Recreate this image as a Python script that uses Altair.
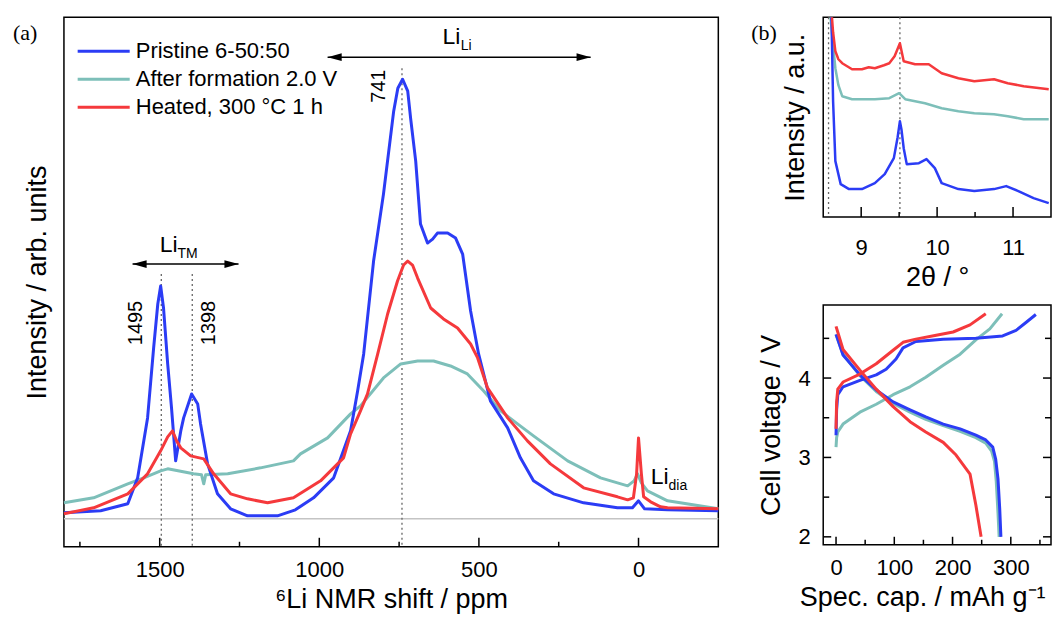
import altair as alt
import pandas as pd

SERIES = ["Pristine 6-50:50", "After formation 2.0 V", "Heated, 300 °C 1 h"]
COLORS = ["#2b3cf5", "#7dbfb9", "#f5393c"]
DRAW_ORDER = [1, 0, 2]

# ---------------- (a) 6Li NMR spectra: shift (ppm) / intensity (arb. units) ----------------
nmr_pristine_ppm = [1800, 1685, 1600, 1569, 1538, 1519, 1506, 1497, 1488, 1475, 1463, 1450, 1434, 1425,
                    1400, 1381, 1372, 1350, 1319, 1278, 1225, 1131, 1075, 1018, 955, 902, 880, 861, 830,
                    799, 767, 754, 739, 723, 714, 698, 683, 661, 645, 630, 598, 573, 551, 526, 501, 464,
                    410, 370, 329, 266, 172, 66, 19, 0, -19, -91, -250]
nmr_pristine_int = [6, 8, 15, 41, 101, 171, 215, 233, 211, 155, 111, 58, 88, 101,
                    125, 115, 95, 55, 25, 10, 3, 3, 9, 21, 41, 88, 128, 165, 258,
                    325, 408, 431, 440, 428, 401, 358, 295, 276, 280, 286, 286, 281, 265, 208, 165, 118,
                    91, 61, 38, 25, 16, 11, 11, 18, 10, 9, 8]

nmr_formed_ppm = [1800, 1707, 1600, 1550, 1497, 1475, 1394, 1369, 1362, 1356, 1287, 1184, 1081, 1059,
                  974, 902, 871, 799, 745, 692, 642, 589, 536, 485, 432, 379, 329, 222, 119, 34, 14,
                  3, -9, -28, -91, -250]
nmr_formed_int = [16, 21, 35, 41, 48, 50, 45, 44, 35, 44, 45, 51, 58, 65,
                  81, 105, 113, 141, 155, 158, 158, 153, 145, 128, 108, 95, 83, 58, 41, 33, 38,
                  45, 36, 28, 18, 10]

nmr_heated_ppm = [1800, 1707, 1600, 1538, 1497, 1475, 1460, 1447, 1434, 1403, 1362, 1331, 1278, 1225,
                  1162, 1081, 996, 924, 902, 871, 849, 817, 786, 755, 736, 723, 708, 692, 651, 611, 567,
                  526, 504, 473, 410, 348, 276, 172, 66, 34, 16, 6, 0, -9, -16, -38, -69, -91, -250]
nmr_heated_int = [5, 11, 25, 45, 68, 82, 88, 78, 71, 63, 60, 45, 25, 20,
                  16, 21, 38, 61, 85, 108, 125, 165, 205, 238, 254, 258, 254, 241, 211, 200, 191,
                  175, 161, 131, 101, 78, 55, 31, 22, 19, 21, 45, 81, 45, 22, 17, 12, 11, 10]

nmr_peak_ppm = [1495, 1398, 741]
nmr_peak_top = [245, 245, 451]
nmr_ticks_major = [1500, 1000, 500, 0]
nmr_ticks_minor = [1750, 1250, 750, 250]

arrow_left_ppm = [974, 1585]
arrow_right_ppm = [150, 1253]
arrow_int = [462, 255]

label_main_text = ["Li", "Li", "Li"]
label_main_ppm = [614, 1500, -38]
label_main_int = [475, 267, 35]
label_sub_text = ["Li", "TM", "dia"]
label_sub_ppm = [557, 1444, -94]
label_sub_int = [469, 261, 29]

peak_label_text = ["1495", "1398", "741"]
peak_label_ppm = [1575, 1347, 814]
peak_label_int = [196, 196, 433]

legend_int = [468, 440, 412]
legend_line_ppm = [1757, 1594]
legend_text_ppm = 1575

# ---------------- (b) XRD: 2theta (deg) / intensity (a.u.) ----------------
xrd_pristine_2th = [8.60, 8.61, 8.63, 8.66, 8.73, 8.84, 9.01, 9.18, 9.31, 9.43, 9.48, 9.51, 9.53, 9.56,
                    9.60, 9.76, 9.86, 9.97, 10.06, 10.28, 10.49, 10.75, 10.91, 11.07, 11.27, 11.47]
xrd_pristine_int = [205, 196, 116, 56, 33, 28, 28, 34, 43, 59, 80, 96, 88, 69,
                    53, 54, 58, 49, 34, 28, 26, 28, 31, 26, 19, 14]
xrd_formed_2th = [8.59, 8.62, 8.66, 8.70, 8.75, 8.88, 9.18, 9.37, 9.50, 9.58, 9.84, 10.06, 10.28, 10.49,
                  10.75, 10.93, 11.14, 11.47]
xrd_formed_int = [205, 180, 149, 132, 121, 118, 118, 119, 124, 118, 114, 109, 106, 104,
                  103, 101, 98, 98]
xrd_heated_2th = [8.61, 8.63, 8.66, 8.70, 8.75, 8.88, 9.01, 9.10, 9.18, 9.30, 9.37, 9.44, 9.51, 9.56,
                  9.71, 9.89, 10.06, 10.28, 10.49, 10.75, 10.93, 11.14, 11.47]
xrd_heated_int = [205, 185, 166, 158, 154, 148, 148, 150, 149, 152, 154, 161, 174, 156,
                  153, 153, 144, 139, 136, 138, 134, 131, 128]
xrd_ref_2th = [8.57, 9.51]
xrd_ticks_major = [9, 10, 11]
xrd_ticks_minor = [9.5, 10.5]

# ---------------- (b) cycling: specific capacity (mAh/g) / voltage (V) ----------------
cv_pristine_ch_cap = [0, 1, 3, 12, 41, 69, 86, 103, 115, 137, 184, 240, 286, 309, 326, 343]
cv_pristine_ch_v = [3.28, 3.60, 3.79, 3.89, 3.97, 4.04, 4.11, 4.24, 4.38, 4.46, 4.49, 4.50, 4.53, 4.60, 4.70, 4.80]
cv_pristine_dis_cap = [0, 12, 41, 69, 98, 127, 154, 184, 213, 240, 257, 269, 274, 278, 281, 283]
cv_pristine_dis_v = [4.55, 4.29, 4.04, 3.85, 3.70, 3.60, 3.51, 3.42, 3.36, 3.28, 3.22, 3.13, 2.98, 2.73, 2.35, 2.00]
cv_formed_ch_cap = [0, 1, 3, 12, 41, 69, 98, 127, 154, 184, 213, 240, 264, 285]
cv_formed_ch_v = [3.13, 3.25, 3.32, 3.42, 3.57, 3.67, 3.79, 3.89, 4.01, 4.16, 4.30, 4.48, 4.62, 4.81]
cv_formed_dis_cap = [0, 12, 41, 69, 98, 127, 154, 184, 213, 240, 257, 267, 272, 275, 278, 280]
cv_formed_dis_v = [4.55, 4.30, 4.03, 3.83, 3.68, 3.57, 3.48, 3.40, 3.33, 3.25, 3.18, 3.08, 2.95, 2.70, 2.30, 2.00]
cv_heated_ch_cap = [0, 1, 3, 12, 41, 69, 98, 115, 137, 172, 201, 230, 257]
cv_heated_ch_v = [3.36, 3.70, 3.86, 3.95, 4.05, 4.18, 4.35, 4.45, 4.49, 4.54, 4.58, 4.67, 4.81]
cv_heated_dis_cap = [0, 12, 41, 69, 98, 127, 154, 184, 206, 230, 240, 249]
cv_heated_dis_v = [4.65, 4.36, 4.10, 3.86, 3.64, 3.45, 3.32, 3.19, 3.03, 2.79, 2.40, 2.00]
cv_ticks_x_major = [0, 100, 200, 300]
cv_ticks_x_minor = [50, 150, 250, 350]
cv_ticks_y_major = [2, 3, 4]
cv_ticks_y_minor = [2.5, 3.5, 4.5]

FONT = "Liberation Sans"
color_scale = alt.Scale(domain=SERIES, range=COLORS)
COLOR = alt.Color("series:N", scale=color_scale, legend=None)

def series_df(name, xs, ys, part="all"):
    assert len(xs) == len(ys)
    return pd.DataFrame({"x": xs, "y": ys, "series": name, "part": part, "idx": list(range(len(xs)))})

def tick_rules(values, X, axis_px, inner_px, channel="x", width=1.5):
    df = pd.DataFrame({"x" if channel == "x" else "y": values})
    if channel == "x":
        return alt.Chart(df).mark_rule(color="black", strokeWidth=width).encode(
            x=X, y=alt.value(axis_px), y2=alt.value(inner_px))
    return alt.Chart(df).mark_rule(color="black", strokeWidth=width).encode(
        y=X, x=alt.value(axis_px), x2=alt.value(inner_px))

# ================= panel (a) =================
WA, HA = 655, 530
XA = alt.X("x:Q", scale=alt.Scale(domain=[1800, -250], nice=False, zero=False),
           axis=alt.Axis(values=nmr_ticks_major, format="d", title="⁶Li NMR shift / ppm",
                         labelPadding=13, titlePadding=6))
YA = alt.Y("y:Q", scale=alt.Scale(domain=[-28, 502], nice=False, zero=False),
           axis=alt.Axis(labels=False, title="Intensity / arb. units", titlePadding=12))

la = []
la.append(alt.Chart(pd.DataFrame({"y": [0]})).mark_rule(color="#c4c4c4", strokeWidth=1.5).encode(y=YA))
la.append(alt.Chart(pd.DataFrame({"x": nmr_peak_ppm, "y": nmr_peak_top, "y2": [-28] * 3}))
          .mark_rule(color="#666666", strokeDash=[2, 3], strokeWidth=1.3)
          .encode(x=XA, y=YA, y2="y2:Q"))
la.append(tick_rules(nmr_ticks_major, XA, HA, HA - 9))
la.append(tick_rules(nmr_ticks_minor, XA, HA, HA - 5))
for i in DRAW_ORDER:
    xs = [nmr_pristine_ppm, nmr_formed_ppm, nmr_heated_ppm][i]
    ys = [nmr_pristine_int, nmr_formed_int, nmr_heated_int][i]
    la.append(alt.Chart(series_df(SERIES[i], xs, ys)).mark_line(strokeWidth=3, strokeJoin="round")
              .encode(x=XA, y=YA, color=COLOR, order="idx:Q"))

# region arrows
arr = pd.DataFrame({"x": arrow_left_ppm, "x2": arrow_right_ppm, "y": arrow_int})
la.append(alt.Chart(arr).mark_rule(color="black", strokeWidth=1.5).encode(x=XA, x2="x2:Q", y=YA))
HEAD = 22
la.append(alt.Chart(pd.DataFrame({"x": [v - HEAD for v in arrow_left_ppm], "y": arrow_int}))
          .mark_point(shape="M-1,0L1,-0.55L1,0.55Z", filled=True, size=200, color="black", opacity=1)
          .encode(x=XA, y=YA))
la.append(alt.Chart(pd.DataFrame({"x": [v + HEAD for v in arrow_right_ppm], "y": arrow_int}))
          .mark_point(shape="M1,0L-1,-0.55L-1,0.55Z", filled=True, size=200, color="black", opacity=1)
          .encode(x=XA, y=YA))
# labels
la.append(alt.Chart(pd.DataFrame({"x": label_main_ppm, "y": label_main_int, "t": label_main_text}))
          .mark_text(font=FONT, fontSize=23, align="left", baseline="alphabetic", color="black")
          .encode(x=XA, y=YA, text="t:N"))
la.append(alt.Chart(pd.DataFrame({"x": label_sub_ppm, "y": label_sub_int, "t": label_sub_text}))
          .mark_text(font=FONT, fontSize=14, align="left", baseline="alphabetic", color="black")
          .encode(x=XA, y=YA, text="t:N"))
la.append(alt.Chart(pd.DataFrame({"x": peak_label_ppm, "y": peak_label_int, "t": peak_label_text}))
          .mark_text(font=FONT, fontSize=20, angle=270, align="center", baseline="middle", color="black")
          .encode(x=XA, y=YA, text="t:N"))
# legend
leg = pd.DataFrame({"x": [legend_line_ppm[0]] * 3, "x2": [legend_line_ppm[1]] * 3,
                    "y": legend_int, "series": SERIES})
la.append(alt.Chart(leg).mark_rule(strokeWidth=3).encode(x=XA, x2="x2:Q", y=YA, color=COLOR))
legt = pd.DataFrame({"x": [legend_text_ppm] * 3, "y": legend_int, "t": SERIES})
la.append(alt.Chart(legt).mark_text(font=FONT, fontSize=22, align="left", baseline="middle", color="black")
          .encode(x=XA, y=YA, text="t:N"))
la.append(alt.Chart(pd.DataFrame({"t": ["(a)"]}))
          .mark_text(font="Liberation Serif", fontSize=22, align="left", baseline="middle", color="black")
          .encode(x=alt.value(-51), y=alt.value(16), text="t:N"))
panel_a = alt.layer(*la).properties(width=WA, height=HA)

# ================= panel (b) XRD =================
WB, HB = 228, 200
XB = alt.X("x:Q", scale=alt.Scale(domain=[8.5, 11.5], nice=False, zero=False),
           axis=alt.Axis(values=xrd_ticks_major, format="d", title="2θ / °", labelPadding=20, titlePadding=6))
YB = alt.Y("y:Q", scale=alt.Scale(domain=[0, 200], nice=False, zero=False),
           axis=alt.Axis(labels=False, title="Intensity / a.u.", titlePadding=14))
lb = []
lb.append(alt.Chart(pd.DataFrame({"x": xrd_ref_2th})).mark_rule(color="#666666", strokeDash=[2, 3], strokeWidth=1.3)
          .encode(x=XB))
lb.append(tick_rules(xrd_ticks_major, XB, HB, HB - 10))
lb.append(tick_rules(xrd_ticks_minor, XB, HB, HB - 5))
for i in DRAW_ORDER:
    xs = [xrd_pristine_2th, xrd_formed_2th, xrd_heated_2th][i]
    ys = [xrd_pristine_int, xrd_formed_int, xrd_heated_int][i]
    lb.append(alt.Chart(series_df(SERIES[i], xs, ys)).mark_line(strokeWidth=2.5, clip=True, strokeJoin="round")
              .encode(x=XB, y=YB, color=COLOR, order="idx:Q"))
lb.append(alt.Chart(pd.DataFrame({"t": ["(b)"]}))
          .mark_text(font="Liberation Serif", fontSize=22, align="left", baseline="middle", color="black")
          .encode(x=alt.value(-72), y=alt.value(16), text="t:N"))
panel_b = alt.layer(*lb).properties(width=WB, height=HB)

# ================= panel (b) voltage profiles =================
WC, HC = 228, 240
XC = alt.X("x:Q", scale=alt.Scale(domain=[-22, 369], nice=False, zero=False),
           axis=alt.Axis(values=cv_ticks_x_major, format="d", title="Spec. cap. / mAh g⁻¹",
                         labelPadding=13, titlePadding=6, titleX=99))
YC = alt.Y("y:Q", scale=alt.Scale(domain=[1.9, 4.92], nice=False, zero=False),
           axis=alt.Axis(values=cv_ticks_y_major, format="d", title="Cell voltage / V",
                         labelPadding=13, titlePadding=13))
lc = []
lc.append(tick_rules(cv_ticks_x_major, XC, HC, HC - 8))
lc.append(tick_rules(cv_ticks_x_minor, XC, HC, HC - 5))
lc.append(tick_rules(cv_ticks_y_major, YC, 0, 8, channel="y"))
lc.append(tick_rules(cv_ticks_y_minor, YC, 0, 6, channel="y"))
lc.append(tick_rules(cv_ticks_y_major, YC, WC, WC - 8, channel="y"))
lc.append(tick_rules(cv_ticks_y_minor, YC, WC, WC - 6, channel="y"))
cv_sets = [
    [(cv_pristine_ch_cap, cv_pristine_ch_v), (cv_pristine_dis_cap, cv_pristine_dis_v)],
    [(cv_formed_ch_cap, cv_formed_ch_v), (cv_formed_dis_cap, cv_formed_dis_v)],
    [(cv_heated_ch_cap, cv_heated_ch_v), (cv_heated_dis_cap, cv_heated_dis_v)],
]
for i in DRAW_ORDER:
    df = pd.concat([series_df(SERIES[i], c, v, part=p)
                    for (c, v), p in zip(cv_sets[i], ["charge", "discharge"])], ignore_index=True)
    lc.append(alt.Chart(df).mark_line(strokeWidth=3, strokeJoin="round")
              .encode(x=XC, y=YC, color=COLOR, detail="part:N", order="idx:Q"))
panel_c = alt.layer(*lc).properties(width=WC, height=HC)

chart = alt.hconcat(
    panel_a,
    alt.vconcat(panel_b, panel_c, spacing=13),
    spacing=29,
).properties(
    padding={"left": 12, "top": 15, "right": 0, "bottom": 0},
    background="white",
).configure_view(
    stroke="black", strokeWidth=1.5
).configure_axis(
    labelFont=FONT, titleFont=FONT, labelFontSize=22, titleFontSize=27,
    titleFontWeight="normal", labelColor="black", titleColor="black",
    grid=False, domain=False, ticks=False,
)

chart.save("out.html", embed_options={"renderer": "svg", "actions": False})
